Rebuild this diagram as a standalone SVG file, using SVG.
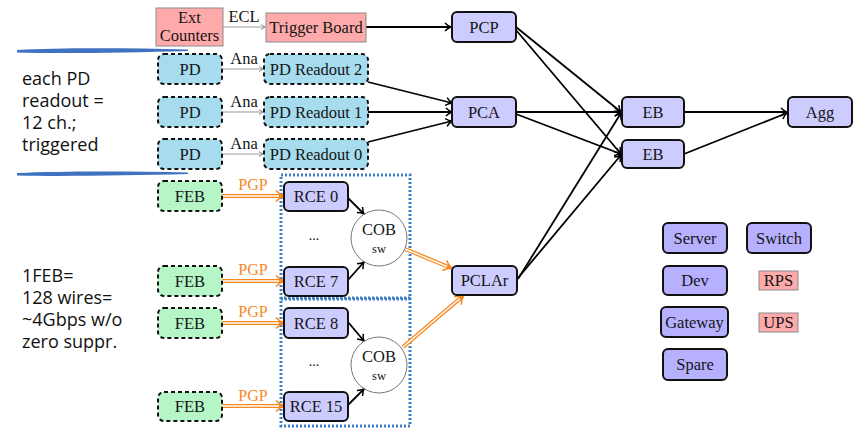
<svg xmlns="http://www.w3.org/2000/svg" width="854" height="429" viewBox="0 0 854 429">
<style>
.lbl{font-family:"Liberation Serif","DejaVu Serif",serif;font-size:16.5px;fill:#151515;text-anchor:middle}
.sm{font-size:14px}
.note{font-family:"Open Sans","Noto Sans",sans-serif;font-size:18px;fill:#111}
.pink{fill:#ffaaaa;stroke:#8a8a8a;stroke-width:1}
.pd{fill:#a6dced;stroke:#111;stroke-width:2;stroke-dasharray:4 3}
.feb{fill:#b6f5c6;stroke:#111;stroke-width:2;stroke-dasharray:4 3}
.pu{fill:#ccccff;stroke:#111;stroke-width:2}
.pd2{fill:#b6b0ff;stroke:#111;stroke-width:2}
.cob{fill:#fff;stroke:#777;stroke-width:1}
.blk{stroke:#000;stroke-width:1.8;fill:none;marker-end:url(#ab)}
.gry{stroke:#999;stroke-width:1;fill:none;marker-end:url(#ag)}
.oo{stroke:#f7881f;stroke-width:4;fill:none;marker-end:url(#ao)}
.ow{stroke:#fff;stroke-width:1.4;fill:none}
.org{fill:#f7881f;font-size:16px}
.dot{fill:none;stroke:#3f7fc8;stroke-width:3;stroke-dasharray:2 2}
.brush{fill:#3f72c0}
</style>
<defs>
<marker id="ab" markerUnits="userSpaceOnUse" markerWidth="12" markerHeight="12" refX="8" refY="6" orient="auto" overflow="visible">
<path d="M2,2 Q5,5 8,6 Q5,7 2,10" fill="none" stroke="#000" stroke-width="1.5"/>
</marker>
<marker id="ag" markerUnits="userSpaceOnUse" markerWidth="10" markerHeight="10" refX="6" refY="5" orient="auto" overflow="visible">
<path d="M2,2.5 L6,5 L2,7.5" fill="none" stroke="#888" stroke-width="1"/>
</marker>
<marker id="ao" markerUnits="userSpaceOnUse" markerWidth="14" markerHeight="14" refX="8" refY="7" orient="auto" overflow="visible">
<path d="M1,1.5 Q5,5.5 8,7 Q5,8.5 1,12.5" fill="none" stroke="#f7881f" stroke-width="1.6"/>
</marker>
</defs>

<g id="notes">
<path class="brush" d="M17,50 C60,47.5 130,48 188,49.5 L188,51 C130,52.5 60,54 17,52.5 Z"/>
<path class="brush" d="M17,173 C60,171 130,171 188,172.5 L188,174 C130,175.5 60,176.5 17,175.5 Z"/>
<text class="note" x="22" y="85">each PD</text>
<text class="note" x="22" y="107">readout =</text>
<text class="note" x="22" y="129">12 ch.;</text>
<text class="note" x="22" y="151">triggered</text>
<text class="note" x="22" y="282">1FEB=</text>
<text class="note" x="22" y="304">128 wires=</text>
<text class="note" x="22" y="326">~4Gbps w/o</text>
<text class="note" x="22" y="348">zero suppr.</text>
</g>

<g id="cob-groups">
<rect class="dot" x="281" y="175" width="129" height="123"/>
<rect class="dot" x="281" y="299" width="129" height="127"/>
</g>

<g id="connectors">
<path class="gry" d="M223,27 L265,27"/>
<text class="lbl" x="244" y="22">ECL</text>
<path class="gry" d="M222,69 L263,69"/>
<text class="lbl" x="244" y="64">Ana</text>
<path class="gry" d="M222,112 L263,112"/>
<text class="lbl" x="244" y="107">Ana</text>
<path class="gry" d="M222,154 L263,154"/>
<text class="lbl" x="244" y="149">Ana</text>

<path class="blk" d="M366,27 L451,27"/>
<path class="blk" d="M368,82 L452,103"/>
<path class="blk" d="M368,112 L452,112"/>
<path class="blk" d="M368,142 L452,121"/>
<path class="blk" d="M516,27 L621,112"/>
<path class="blk" d="M516,30 L621,154"/>
<path class="blk" d="M516,112 L621,112"/>
<path class="blk" d="M516,114 L621,154"/>
<path class="blk" d="M518,279 L621,113"/>
<path class="blk" d="M518,278 L621,155"/>
<path class="blk" d="M684,112 L787,112"/>
<path class="blk" d="M684,154 L787,113"/>

<path class="blk" d="M348,198 L364,214"/>
<path class="blk" d="M348,280 L364,262"/>
<path class="blk" d="M348,322 L364,341"/>
<path class="blk" d="M348,405 L364,389"/>

<path class="oo" d="M222,196 L283,196"/><path class="ow" d="M222,196 L279,196"/>
<path class="oo" d="M222,281 L283,281"/><path class="ow" d="M222,281 L279,281"/>
<path class="oo" d="M222,323 L283,323"/><path class="ow" d="M222,323 L279,323"/>
<path class="oo" d="M222,406 L283,406"/><path class="ow" d="M222,406 L279,406"/>
<path class="oo" d="M405,249 L451,268"/><path class="ow" d="M405,249 L447,266.5"/>
<path class="oo" d="M403,347 L463,296"/><path class="ow" d="M403,347 L460,298.5"/>
<text class="lbl org" x="253" y="190">PGP</text>
<text class="lbl org" x="253" y="275">PGP</text>
<text class="lbl org" x="253" y="317">PGP</text>
<text class="lbl org" x="253" y="401">PGP</text>
</g>

<g id="ext-counters"><rect class="pink" x="156" y="8" width="67" height="38"/><text class="lbl" x="189.5" y="23">Ext</text><text class="lbl" x="189.5" y="41">Counters</text></g>
<g id="trigger-board"><rect class="pink" x="266" y="13" width="100" height="29"/><text class="lbl" x="316" y="33">Trigger Board</text></g>

<g id="pd2"><rect class="pd" x="158" y="54" width="64" height="30" rx="6"/><text class="lbl" x="190" y="75">PD</text></g>
<g id="pd1"><rect class="pd" x="158" y="97" width="64" height="30" rx="6"/><text class="lbl" x="190" y="118">PD</text></g>
<g id="pd0"><rect class="pd" x="158" y="139" width="64" height="30" rx="6"/><text class="lbl" x="190" y="160">PD</text></g>
<g id="pd-readout-2"><rect class="pd" x="264" y="54" width="104" height="30" rx="6"/><text class="lbl" x="316" y="75">PD Readout 2</text></g>
<g id="pd-readout-1"><rect class="pd" x="264" y="97" width="104" height="30" rx="6"/><text class="lbl" x="316" y="118">PD Readout 1</text></g>
<g id="pd-readout-0"><rect class="pd" x="264" y="139" width="104" height="30" rx="6"/><text class="lbl" x="316" y="160">PD Readout 0</text></g>

<g id="feb0"><rect class="feb" x="158" y="181" width="64" height="30" rx="6"/><text class="lbl" x="190" y="202">FEB</text></g>
<g id="feb7"><rect class="feb" x="158" y="266" width="64" height="30" rx="6"/><text class="lbl" x="190" y="287">FEB</text></g>
<g id="feb8"><rect class="feb" x="158" y="308" width="64" height="30" rx="6"/><text class="lbl" x="190" y="329">FEB</text></g>
<g id="feb15"><rect class="feb" x="158" y="392" width="64" height="29" rx="6"/><text class="lbl" x="190" y="412">FEB</text></g>

<g id="rce0"><rect class="pu" x="284" y="182" width="64" height="29" rx="5"/><text class="lbl" x="316" y="202">RCE 0</text></g>
<g id="rce7"><rect class="pu" x="284" y="267" width="64" height="29" rx="5"/><text class="lbl" x="316" y="287">RCE 7</text></g>
<g id="rce8"><rect class="pu" x="284" y="308" width="64" height="30" rx="5"/><text class="lbl" x="316" y="329">RCE 8</text></g>
<g id="rce15"><rect class="pu" x="284" y="392" width="64" height="29" rx="5"/><text class="lbl" x="316" y="412">RCE 15</text></g>
<g id="dots1"><text class="lbl sm" x="314" y="240">...</text></g>
<g id="dots2"><text class="lbl sm" x="314" y="366">...</text></g>

<g id="cob1"><circle class="cob" cx="379" cy="238" r="28"/><text class="lbl" x="379" y="235">COB</text><text class="lbl" x="379" y="253" style="font-size:12.5px">sw</text></g>
<g id="cob2"><circle class="cob" cx="379" cy="365" r="28"/><text class="lbl" x="379" y="362">COB</text><text class="lbl" x="379" y="380" style="font-size:12.5px">sw</text></g>

<g id="pcp"><rect class="pu" x="452" y="12" width="64" height="30" rx="5"/><text class="lbl" x="484" y="33">PCP</text></g>
<g id="pca"><rect class="pu" x="452" y="97" width="64" height="30" rx="5"/><text class="lbl" x="484" y="118">PCA</text></g>
<g id="pclar"><rect class="pu" x="452" y="266" width="65" height="29" rx="5"/><text class="lbl" x="484.5" y="286">PCLAr</text></g>
<g id="eb1"><rect class="pu" x="622" y="97" width="62" height="30" rx="5"/><text class="lbl" x="653" y="118">EB</text></g>
<g id="eb2"><rect class="pu" x="622" y="140" width="62" height="28" rx="5"/><text class="lbl" x="653" y="160">EB</text></g>
<g id="agg"><rect class="pu" x="788" y="97" width="64" height="30" rx="5"/><text class="lbl" x="820" y="118">Agg</text></g>

<g id="server"><rect class="pd2" x="663" y="223" width="64" height="30" rx="5"/><text class="lbl" x="695" y="244">Server</text></g>
<g id="switch"><rect class="pd2" x="747" y="223" width="64" height="30" rx="5"/><text class="lbl" x="779" y="244">Switch</text></g>
<g id="dev"><rect class="pd2" x="663" y="266" width="64" height="29" rx="5"/><text class="lbl" x="695" y="286">Dev</text></g>
<g id="gateway"><rect class="pd2" x="661" y="307" width="67" height="30" rx="5"/><text class="lbl" x="694.5" y="328">Gateway</text></g>
<g id="spare"><rect class="pd2" x="663" y="349" width="64" height="31" rx="5"/><text class="lbl" x="695" y="370">Spare</text></g>
<g id="rps"><rect class="pink" x="759" y="271" width="39" height="19"/><text class="lbl" x="778.5" y="286">RPS</text></g>
<g id="ups"><rect class="pink" x="759" y="313" width="39" height="19"/><text class="lbl" x="778.5" y="328">UPS</text></g>
</svg>
